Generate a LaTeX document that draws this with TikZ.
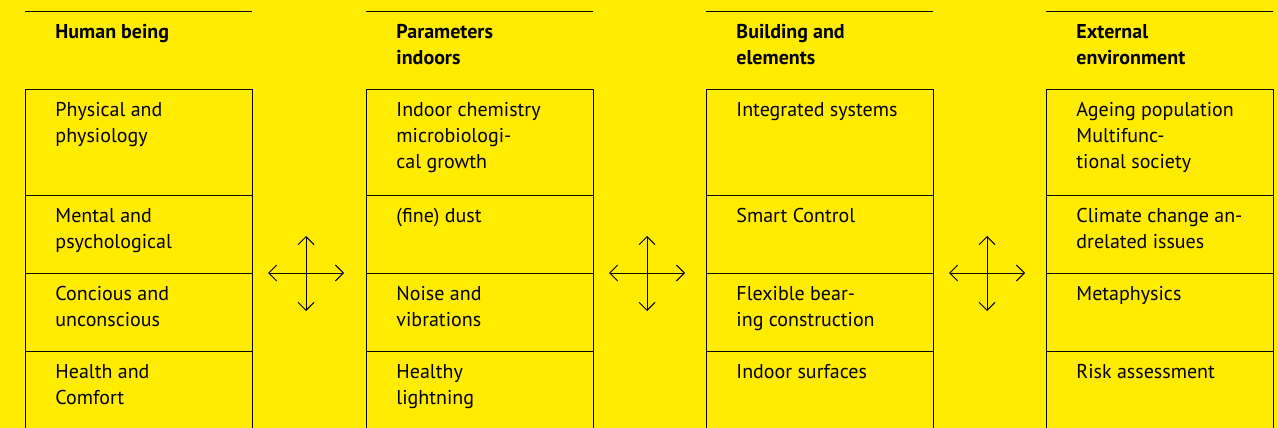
\documentclass[tikz,border=0pt]{standalone}
\usepackage{fontspec}
\setmainfont{PT Sans}
\usetikzlibrary{arrows.meta, positioning}
\definecolor{signal}{HTML}{FFEC00}

\begin{document}
\begin{tikzpicture}[
            x = 1pt, y = 1pt, % one unit is one pixel
            > = {Straight Barb[length=8pt, width=16pt]}, % open arrow heads
            line width = 0.9pt,
            node distance = 13pt and 30pt % text inset in each cell
        ]

        \tikzstyle{cell}=[
            draw = black,
            rectangle,
            minimum width = 227pt,
            inner sep = 0pt,
            outer sep = 0pt,
            anchor = north west
        ]
        \tikzstyle{txt}=[
            inner sep = 0pt,
            align = left,
            font = \fontsize{20}{26}\selectfont
        ]
        \tikzstyle{head}=[txt, font = \fontsize{20}{26}\selectfont\bfseries]

        \fill[signal] (0,0) rectangle (1278,-428);
        \useasboundingbox (0,0) rectangle (1278,-428);

        % columns: header rule and four cells each
        \foreach \x/\c in {25/1, 366/2, 706/3, 1046/4} {
            \coordinate (h\c) at (\x,-11);
            \draw (h\c) -- ++(227,0);
            \node[cell, minimum height = 106pt] (c1\c) at (\x,-89) {};
            \node[cell, minimum height = 78pt] (c2\c) at (c1\c.south west) {};
            \node[cell, minimum height = 78pt] (c3\c) at (c2\c.south west) {};
            \node[cell, minimum height = 90pt] (c4\c) at (c3\c.south west) {};
        }

        \node[head, below right = of h1] {Human being};
        \node[head, below right = of h2] {Parameters\\indoors};
        \node[head, below right = of h3] {Building and\\elements};
        \node[head, below right = of h4] {External\\environment};

        \node[txt, below right = of c11.north west] {Physical and\\physiology};
        \node[txt, below right = of c21.north west] {Mental and\\psychological};
        \node[txt, below right = of c31.north west] {Concious and\\unconscious};
        \node[txt, below right = of c41.north west] {Health and\\Comfort};

        \node[txt, below right = of c12.north west] {Indoor chemistry\\microbiologi-\\cal growth};
        \node[txt, below right = of c22.north west] {(fine) dust};
        \node[txt, below right = of c32.north west] {Noise and\\vibrations};
        \node[txt, below right = of c42.north west] {Healthy\\lightning};

        \node[txt, below right = of c13.north west] {Integrated systems};
        \node[txt, below right = of c23.north west] {Smart Control};
        \node[txt, below right = of c33.north west] {Flexible bear-\\ing construction};
        \node[txt, below right = of c43.north west] {Indoor surfaces};

        \node[txt, below right = of c14.north west] {Ageing population\\Multifunc-\\tional society};
        \node[txt, below right = of c24.north west] {Climate change an-\\drelated issues};
        \node[txt, below right = of c34.north west] {Metaphysics};
        \node[txt, below right = of c44.north west] {Risk assessment};

        % crosses between the columns
        \foreach \x/\k in {306/1, 647/2, 987/3} {
            \coordinate (x\k) at (\x,-273);
            \draw[<->] ([xshift=-38pt]x\k) -- ([xshift=38pt]x\k);
            \draw[<->] ([yshift=37pt]x\k) -- ([yshift=-38pt]x\k);
        }
    \end{tikzpicture}
\end{document}
